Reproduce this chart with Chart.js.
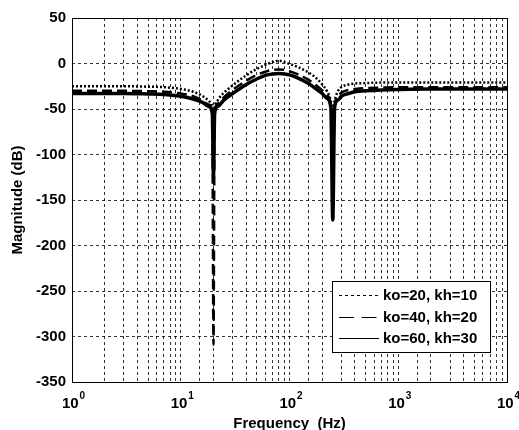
<!DOCTYPE html>
<html>
<head>
<meta charset="utf-8">
<script src="https://cdn.jsdelivr.net/npm/chart.js@4/dist/chart.umd.min.js"></script>
<style>
  html, body { margin: 0; padding: 0; background: #fff; }
</style>
</head>
<body>
<canvas id="bode" width="519" height="430"></canvas>
<script>
// frequency points (Hz)
const freqHz = [1, 2, 3, 5, 7, 10, 13, 16, 18, 19.5, 20, 20.5, 22, 25, 30, 40, 50, 60, 70, 80,
  90, 100, 120, 150, 180, 200, 220, 240, 250, 260, 280, 300, 350, 400, 500, 700, 1000, 2000, 5000, 10000];

// magnitude (dB) for each gain pair
const magKo20 = [-25, -25, -25, -25.5, -26, -28, -31, -36, -41, -48, -60, -48, -40, -32, -24, -13, -6, -1.5, 1.5, 3,
  1.5, -0.5, -4, -10, -17, -23, -30, -41, -55, -41, -30, -26, -23, -22, -21.5, -21, -21, -21, -21, -21];
const magKo40 = [-30, -30, -30, -30.5, -31, -33, -36, -41, -45, -53, -309, -53, -44, -37, -29, -19, -12.5, -9, -7, -6.5,
  -7, -8.5, -12, -18, -25, -29.5, -35, -46, -115, -46, -36, -32, -29, -28, -27, -26.5, -26, -26, -26, -26];
const magKo60 = [-33, -33, -33, -33.5, -34, -36, -39, -43, -47, -55, -123, -55, -47, -40, -33, -23, -17, -13, -11.5, -11,
  -11.5, -12.5, -16, -22, -29, -33, -38, -48, -172, -48, -40, -36, -33, -31, -30, -29, -28.5, -28, -28, -28];

const seriesLabels = ["ko=20, kh=10", "ko=40, kh=20", "ko=60, kh=30"];
const xDecades = [0, 1, 2, 3, 4];
const yTicks = [-350, -300, -250, -200, -150, -100, -50, 0, 50];

const fontFam = "'Liberation Sans', Arial, Helvetica, sans-serif";
const gridColor = "rgba(0,0,0,0.8)";
const dashes = [[2, 2], [10, 5], []];
const widths = [2.5, 2.5, 3.5];

function toPoints(ys) {
  return freqHz.map(function (f, i) { return { x: f, y: ys[i] }; });
}

const allMags = [magKo20, magKo40, magKo60];
const datasets = allMags.map(function (m, i) {
  return {
    label: seriesLabels[i],
    data: toPoints(m),
    borderColor: "#000",
    borderWidth: widths[i],
    borderDash: dashes[i],
    pointRadius: 0,
    fill: false,
    cubicInterpolationMode: "monotone"
  };
});

const extras = {
  id: "extras",
  afterDraw(chart) {
    const ctx = chart.ctx;
    const a = chart.chartArea;
    const xs = chart.scales.x;
    ctx.save();
    // box around the plot
    ctx.setLineDash([]);
    ctx.strokeStyle = "#000";
    ctx.lineWidth = 1;
    ctx.strokeRect(Math.round(a.left) + 0.5, Math.round(a.top) + 0.5,
      Math.round(a.right - a.left), Math.round(a.bottom - a.top));

    // 10^n labels
    ctx.fillStyle = "#000";
    ctx.textBaseline = "alphabetic";
    xDecades.forEach(function (p) {
      const x = xs.getPixelForValue(Math.pow(10, p));
      ctx.font = "bold 15px " + fontFam;
      const wb = ctx.measureText("10").width;
      ctx.font = "bold 10px " + fontFam;
      const ws = ctx.measureText(String(p)).width;
      const x0 = x - (wb + ws) / 2 + 1;
      ctx.font = "bold 15px " + fontFam;
      ctx.textAlign = "left";
      ctx.fillText("10", x0, a.bottom + 26);
      ctx.font = "bold 10px " + fontFam;
      ctx.fillText(String(p), x0 + wb + 1, a.bottom + 17);
    });

    // legend
    const lx = 332, ly = 281, lw = 158, lh = 71;
    ctx.fillStyle = "#fff";
    ctx.fillRect(lx, ly, lw, lh);
    ctx.strokeRect(lx + 0.5, ly + 0.5, lw, lh);
    const rows = [295, 317, 338];
    chart.data.datasets.forEach(function (ds, i) {
      ctx.beginPath();
      ctx.setLineDash(ds.borderDash.length ? [ds.borderDash[0] * 1.5, ds.borderDash[1] * 1.5] : []);
      ctx.lineWidth = 1;
      ctx.moveTo(339, rows[i] + 0.5);
      ctx.lineTo(379, rows[i] + 0.5);
      ctx.stroke();
      ctx.setLineDash([]);
      ctx.fillStyle = "#000";
      ctx.font = "bold 15px " + fontFam;
      ctx.textAlign = "left";
      ctx.textBaseline = "middle";
      ctx.fillText(ds.label, 383, rows[i] + 1);
    });
    ctx.restore();
  }
};

new Chart(document.getElementById("bode"), {
  type: "line",
  data: { datasets: datasets },
  plugins: [extras],
  options: {
    responsive: false,
    animation: false,
    layout: { padding: { top: 18, right: 12, left: 0, bottom: 0 } },
    plugins: { legend: { display: false }, tooltip: { enabled: false } },
    scales: {
      x: {
        type: "logarithmic",
        min: 1,
        max: 10000,
        grid: { color: gridColor, lineWidth: 1, drawTicks: false },
        border: { display: false, dash: [3, 3] },
        ticks: { autoSkip: false, callback: function () { return ""; }, padding: 0 },
        title: {
          display: true,
          text: "Frequency  (Hz)",
          color: "#000",
          font: { family: fontFam, size: 15, weight: "bold" },
          padding: { top: 0, bottom: -3 }
        },
        afterFit: function (s) { s.height = 48; }
      },
      y: {
        min: -350,
        max: 50,
        afterBuildTicks: function (s) { s.ticks = yTicks.map(function (v) { return { value: v }; }); },
        grid: { color: gridColor, lineWidth: 1, drawTicks: false },
        border: { display: false, dash: [3, 3] },
        ticks: {
          color: "#000",
          padding: 6,
          font: { family: fontFam, size: 15, weight: "bold" }
        },
        title: {
          display: true,
          text: "Magnitude (dB)",
          color: "#000",
          font: { family: fontFam, size: 15, weight: "bold" },
          padding: { top: 9, bottom: 0 }
        },
        afterFit: function (s) { s.width = 72; }
      }
    }
  }
});
</script>
</body>
</html>
